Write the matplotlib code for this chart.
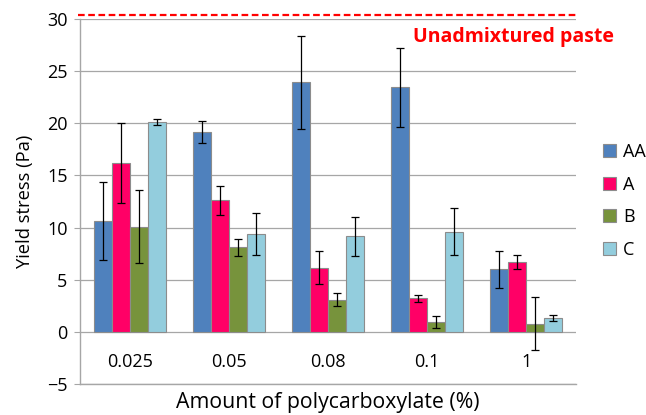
import matplotlib
matplotlib.use("Agg")
import matplotlib.pyplot as plt
import numpy as np

plt.rcParams['font.family'] = ['Open Sans', 'DejaVu Sans']

categories = ["0.025", "0.05", "0.08", "0.1", "1"]
series_names = ["AA", "A", "B", "C"]
values = {
    "AA": [10.6, 19.2, 23.95, 23.45, 6.0],
    "A":  [16.2, 12.6, 6.15, 3.2, 6.7],
    "B":  [10.1, 8.1, 3.1, 0.95, 0.8],
    "C":  [20.1, 9.4, 9.15, 9.6, 1.3],
}
errors = {
    "AA": [3.75, 1.05, 4.45, 3.8, 1.75],
    "A":  [3.8, 1.35, 1.6, 0.37, 0.65],
    "B":  [3.5, 0.8, 0.6, 0.55, 2.5],
    "C":  [0.3, 2.0, 1.85, 2.25, 0.3],
}
colors = {"AA": "#4F81BD", "A": "#FF0066", "B": "#77933C", "C": "#93CDDD"}
reference_value = 30.4
reference_label = "Unadmixtured paste"

fig = plt.figure(figsize=(6.46, 4.15), dpi=100)
ax = fig.add_axes([80/646, 31/415, 496/646, 365/415])

x = np.arange(len(categories))
w = 1/5.5
for i, s in enumerate(series_names):
    pos = x + (i - 1.5) * w
    ax.bar(pos, values[s], width=w, color=colors[s], edgecolor="#8c8c8c",
           linewidth=0.8, label=s, zorder=3)
    ax.errorbar(pos, values[s], yerr=errors[s], fmt='none', ecolor='black',
                elinewidth=0.9, capsize=2.8, capthick=0.9, zorder=4)

ax.set_xlim(-0.5, len(categories) - 0.5)
ax.set_ylim(-5, 30)
ax.set_yticks(np.arange(-5, 31, 5))
ax.yaxis.grid(True, color="#a6a6a6", linewidth=0.9, zorder=0)
ax.set_axisbelow(True)
for sp in ["top", "right"]:
    ax.spines[sp].set_visible(False)
ax.spines["left"].set_color("#a6a6a6")
ax.spines["bottom"].set_color("#a6a6a6")
ax.spines["left"].set_linewidth(1.0)
ax.spines["bottom"].set_linewidth(1.0)
ax.tick_params(axis='y', length=4, color="#a6a6a6", labelsize=13, pad=5)
ax.set_xticks(x)
ax.set_xticklabels(categories)
ax.tick_params(axis='x', length=0, labelsize=13, pad=-22)

ax.axhline(reference_value, xmin=-0.005, xmax=1.0, color="#FF0000", linestyle=(0, (3, 1.6)),
           linewidth=1.6, clip_on=False, zorder=5)
ax.text(0.672, 0.951, reference_label, transform=ax.transAxes, color="#FF0000",
        fontsize=14, fontweight='bold', ha='left', va='center', clip_on=False)

ax.set_ylabel("Yield stress (Pa)", fontsize=13.2)
ax.yaxis.set_label_coords(-0.093, 0.5)
ax.set_xlabel("Amount of polycarboxylate (%)", fontsize=15.3)
ax.xaxis.set_label_coords(0.5, -0.022)

leg = ax.legend(loc='center left', bbox_to_anchor=(603/646, 0.516),
                bbox_transform=fig.transFigure, frameon=False, fontsize=13,
                handlelength=0.72, handleheight=0.72, handletextpad=0.4,
                labelspacing=0.8, borderaxespad=0, borderpad=0)

fig.savefig("out.png", dpi=100)
